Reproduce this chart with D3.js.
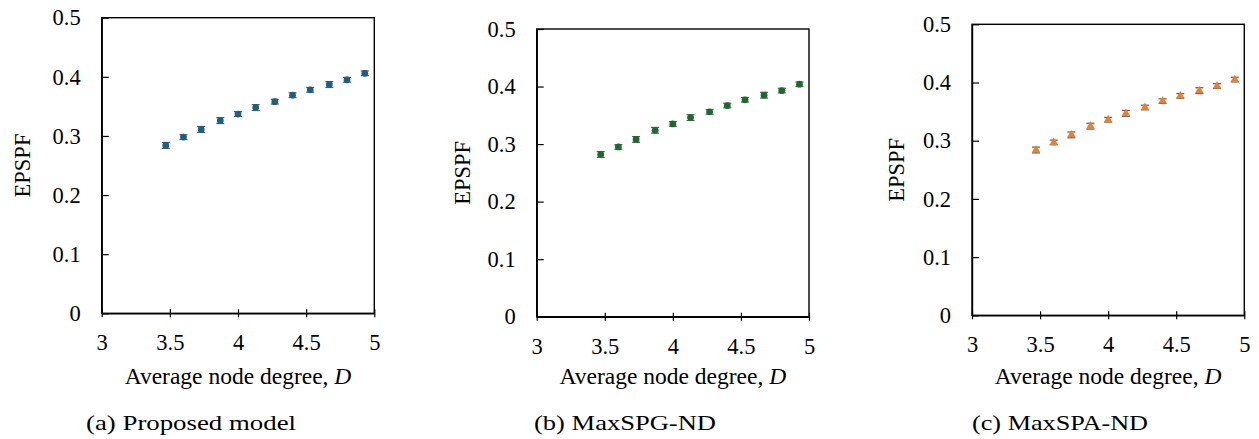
<!DOCTYPE html>
<html><head><meta charset="utf-8">
<script src="https://cdn.jsdelivr.net/npm/d3@7"></script>
<style>
html,body{margin:0;padding:0;background:#fff;}
svg{display:block;}
svg text{font-family:"Liberation Serif","Times New Roman",Tinos,"DejaVu Serif",serif !important;}
</style></head>
<body>
<svg id="chart" width="1259" height="439"></svg>
<script>
// ---- data ----
const degree = [3.47, 3.6, 3.73, 3.87, 4.0, 4.13, 4.27, 4.4, 4.53, 4.67, 4.8, 4.93];
const proposedModel = [0.284, 0.298, 0.311, 0.326, 0.337, 0.348, 0.358, 0.369, 0.378, 0.387, 0.395, 0.406];
const maxSPGND = [0.282, 0.295, 0.308, 0.324, 0.335, 0.346, 0.356, 0.367, 0.377, 0.385, 0.393, 0.404];
const maxSPAND = [0.284, 0.297, 0.310, 0.325, 0.336, 0.347, 0.357, 0.368, 0.377, 0.386, 0.394, 0.405];
const errProposed = [0.005, 0.004, 0.005, 0.005, 0.004, 0.005, 0.004, 0.004, 0.004, 0.005, 0.004, 0.004];
const errSPG = [0.005, 0.004, 0.005, 0.005, 0.004, 0.005, 0.004, 0.004, 0.004, 0.005, 0.004, 0.004];
const errSPA = [0.005, 0.004, 0.005, 0.005, 0.004, 0.005, 0.004, 0.004, 0.004, 0.005, 0.004, 0.004];
const xTicks = [3, 3.5, 4, 4.5, 5];
const yTicks = [0, 0.1, 0.2, 0.3, 0.4, 0.5];
const captions = ["(a) Proposed model", "(b) MaxSPG-ND", "(c) MaxSPA-ND"];
const xTitle = "Average node degree, ";
const xTitleVar = "D";
const yTitle = "EPSPF";

const panels = [
  {values: proposedModel, err: errProposed, color: "#1d5f82", shape: "circle",
   L: 101.7, R: 374.3, T: 17.7, B: 313.3, yTitleX: 22.7, capX: 86, capW: 210},
  {values: maxSPGND, err: errSPG, color: "#1d6b2a", shape: "circle",
   L: 536.7, R: 809, T: 29, B: 316.7, yTitleX: 463.3, capX: 534, capW: 182},
  {values: maxSPAND, err: errSPA, color: "#ed7d31", shape: "triangle",
   L: 972, R: 1244.3, T: 24.3, B: 315.3, yTitleX: 896.7, capX: 972, capW: 176}
];

const svg = d3.select("#chart");

panels.forEach((p, i) => {
  const x = d3.scaleLinear().domain([3, 5]).range([p.L, p.R]);
  const y = d3.scaleLinear().domain([0, 0.5]).range([p.B, p.T]);
  const g = svg.append("g");

  // frame
  g.append("rect").attr("x", p.L).attr("y", p.T)
    .attr("width", p.R - p.L).attr("height", p.B - p.T)
    .attr("fill", "none").attr("stroke", "#000").attr("stroke-width", 1.4);

  // y axis
  const ya = d3.axisLeft(y).tickValues(yTicks).tickSizeInner(-7).tickSizeOuter(0)
    .tickFormat(d => d === 0 ? "0" : d3.format(".1f")(d)).tickPadding(21);
  const yg = g.append("g").attr("transform", `translate(${p.L},0)`).call(ya);
  yg.attr("font-family", null).attr("font-size", null);
  yg.select(".domain").attr("stroke", "#000").attr("stroke-width", 1.4);
  yg.selectAll(".tick line").attr("stroke", "#000").attr("stroke-width", 1.2);
  yg.selectAll(".tick text").style("font-size", "22.5px").attr("fill", "#000");

  // x axis
  const xa = d3.axisBottom(x).tickValues(xTicks).tickSizeInner(4).tickSizeOuter(0)
    .tickFormat(d => String(d)).tickPadding(17);
  const xg = g.append("g").attr("transform", `translate(0,${p.B})`).call(xa);
  xg.attr("font-family", null).attr("font-size", null);
  xg.select(".domain").attr("stroke", "#000").attr("stroke-width", 1.4);
  xg.selectAll(".tick line").attr("stroke", "#000").attr("stroke-width", 1.2).attr("y1", -4);
  xg.selectAll(".tick text").style("font-size", "22.5px").attr("fill", "#000");

  // error bars
  const eb = g.append("g");
  degree.forEach((d, k) => {
    const cx = x(d), v = p.values[k], e = p.err[k];
    eb.append("line").attr("x1", cx).attr("x2", cx).attr("y1", y(v - e)).attr("y2", y(v + e))
      .attr("stroke", "#595959").attr("stroke-width", 1.2);
    [v - e, v + e].forEach(t => eb.append("line").attr("x1", cx - 4).attr("x2", cx + 4)
      .attr("y1", y(t)).attr("y2", y(t)).attr("stroke", "#595959").attr("stroke-width", 1.2));
  });

  // markers
  const sym = p.shape === "triangle" ? d3.symbolTriangle : d3.symbolCircle;
  const size = p.shape === "triangle" ? 32 : 36;
  g.append("g").selectAll("path").data(degree).join("path")
    .attr("d", d3.symbol().type(sym).size(size))
    .attr("transform", (d, k) => `translate(${x(d)},${y(p.values[k])})`)
    .attr("fill", p.color);

  // x title
  const xt = g.append("text").attr("x", (p.L + p.R) / 2).attr("y", 384)
    .attr("text-anchor", "middle").style("font-size", "23.5px").attr("fill", "#000");
  xt.append("tspan").text(xTitle);
  xt.append("tspan").attr("font-style", "italic").text(xTitleVar);

  // y title
  g.append("text").attr("transform", `translate(${p.yTitleX + 7},${(p.T + p.B) / 2}) rotate(-90)`)
    .attr("text-anchor", "middle").style("font-size", "22.5px").attr("fill", "#000")
    .text(yTitle);

  // caption
  g.append("text").attr("x", p.capX).attr("y", 430)
    .style("font-size", "22px").attr("fill", "#000")
    .attr("textLength", p.capW).attr("lengthAdjust", "spacingAndGlyphs")
    .text(captions[i]);
});
</script>
</body></html>
